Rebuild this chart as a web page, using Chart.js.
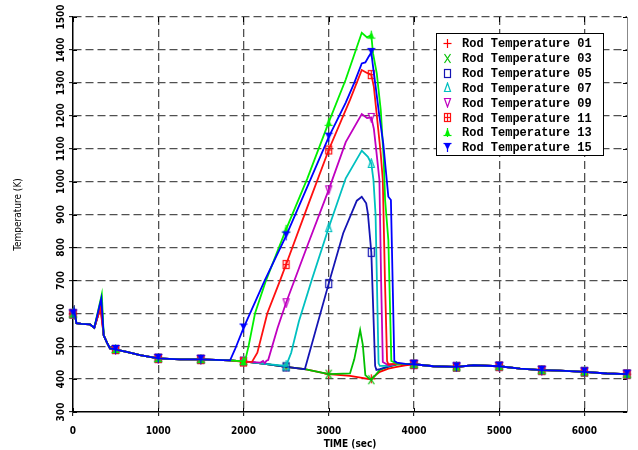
<!DOCTYPE html>
<html lang="en">
<head>
<meta charset="UTF-8">
<title>Rod Temperature</title>
<script src="https://cdn.jsdelivr.net/npm/chart.js"></script>
<style>
  body { margin: 0; background: #fff; }
  .plot { position: relative; width: 638px; height: 450px; }
</style>
</head>
<body>
<div class="plot"><canvas id="rodChart"></canvas></div>
<script>
// rod labels and line colours, 01 .. 15
const rodNames = ['Rod Temperature 01', 'Rod Temperature 03', 'Rod Temperature 05', 'Rod Temperature 07',
                  'Rod Temperature 09', 'Rod Temperature 11', 'Rod Temperature 13', 'Rod Temperature 15'];
const rodColors = ['#ff0000', '#00c000', '#1414b4', '#00c0c0', '#c000c0', '#ff1010', '#00f000', '#0000ff'];

const timeTicks = [0, 1000, 2000, 3000, 4000, 5000, 6000];

// start of transient, same for every rod (time s / temperature K)
const headT = [0, 12, 40, 100, 200, 250];
const headK = [598, 612, 570, 568, 566, 556];

// short spike near 330 s
const spikeT = [322, 335, 330, 330, 328, 325, 338, 332];
const spikeK = [615, 640, 628, 630, 625, 620, 658, 645];

const midT = [360, 400, 434, 500, 532, 630, 786, 1000, 1256, 1500];
const midK = [533, 510, 493, 490, 488, 483, 473, 463, 460, 460];

// heat-up and quench, per rod
const t01 = [1843, 2000, 2250, 2500, 2720, 3000, 3250, 3480, 3500, 3550, 3600, 3700, 3800, 3900];
const k01 = [457, 454, 446, 437, 430, 415, 410, 400, 401, 412, 422, 432, 437, 442];

const t03 = [1843, 2000, 2250, 2500, 2720, 3000, 3250, 3300, 3369, 3400, 3430, 3480, 3500, 3550, 3600, 3700, 3800, 3900];
const k03 = [457, 454, 446, 437, 430, 415, 417, 460, 549, 505, 412, 400, 398, 412, 428, 438, 444, 446];

const t05 = [1843, 2000, 2250, 2500, 2720, 3000, 3170, 3330, 3388, 3440, 3460, 3500, 3545, 3560, 3600, 3700, 3800, 3900];
const k05 = [457, 454, 446, 437, 430, 690, 843, 942, 954, 934, 903, 785, 440, 428, 430, 438, 446, 446];

const t07 = [1843, 2000, 2250, 2500, 2560, 2650, 2800, 3000, 3200, 3388, 3460, 3500, 3525, 3550, 3585, 3600, 3700, 3800, 3900];
const k07 = [457, 454, 446, 440, 480, 575, 700, 860, 1010, 1094, 1075, 1055, 1005, 900, 448, 440, 440, 446, 446];

const t09 = [1843, 2000, 2200, 2230, 2250, 2270, 2290, 2400, 2500, 2750, 3000, 3200, 3388, 3450, 3500, 3530, 3560, 3595, 3615, 3635, 3700, 3800, 3900];
const k09 = [457, 454, 450, 455, 448, 456, 458, 555, 632, 805, 975, 1120, 1205, 1193, 1195, 1160, 1090, 1005, 700, 452, 442, 446, 446];

const t11 = [1843, 2000, 2100, 2163, 2280, 2430, 2500, 2750, 3000, 3250, 3388, 3450, 3500, 3530, 3570, 3610, 3635, 3660, 3685, 3700, 3800, 3900];
const k11 = [457, 452, 452, 480, 600, 700, 748, 923, 1096, 1248, 1339, 1330, 1325, 1288, 1187, 1086, 1005, 700, 455, 445, 446, 446];

const t13 = [1843, 2000, 2020, 2060, 2136, 2265, 2500, 2750, 3000, 3200, 3388, 3450, 3500, 3520, 3564, 3611, 3645, 3662, 3700, 3735, 3800, 3900];
const k13 = [457, 454, 456, 500, 600, 700, 855, 1010, 1180, 1310, 1452, 1438, 1445, 1390, 1329, 1217, 1070, 944, 822, 455, 447, 446];

const t15 = [1843, 1900, 2000, 2250, 2500, 2750, 3000, 3200, 3300, 3388, 3430, 3470, 3500, 3520, 3550, 3590, 3640, 3700, 3730, 3770, 3800, 3900];
const k15 = [457, 490, 555, 700, 835, 985, 1135, 1240, 1300, 1359, 1362, 1380, 1392, 1350, 1290, 1208, 1116, 954, 944, 455, 450, 446];

// long cool-down, same for every rod
const tailT = [4000, 4229, 4500, 4699, 5000, 5246, 5500, 5716, 6000, 6264, 6500];
const tailK = [445, 439, 437, 442, 439, 432, 427, 426, 422, 417, 415];

const rodT = [t01, t03, t05, t07, t09, t11, t13, t15];
const rodK = [k01, k03, k05, k07, k09, k11, k13, k15];

const NARROW = "'Liberation Sans Narrow', 'Arial Narrow', 'DejaVu Sans Condensed', sans-serif";

// small marker glyphs drawn on 11x11 canvases
function glyph(color, draw) {
    const c = document.createElement('canvas');
    c.width = 11; c.height = 11;
    const g = c.getContext('2d');
    g.strokeStyle = color; g.fillStyle = color; g.lineWidth = 1.2;
    draw(g);
    return c;
}
function seg(g, x1, y1, x2, y2) { g.beginPath(); g.moveTo(x1, y1); g.lineTo(x2, y2); g.stroke(); }
function tri(g, pts, fill) {
    g.beginPath(); g.moveTo(pts[0], pts[1]); g.lineTo(pts[2], pts[3]); g.lineTo(pts[4], pts[5]); g.closePath();
    fill ? g.fill() : g.stroke();
}

const markers = [
    glyph(rodColors[0], g => { seg(g, 5.5, 1, 5.5, 10); seg(g, 1.5, 5.5, 9.5, 5.5); }),
    glyph(rodColors[1], g => { seg(g, 2.5, 1, 8.5, 10); seg(g, 8.5, 1, 2.5, 10); }),
    glyph(rodColors[2], g => { g.strokeRect(2.5, 1.5, 6, 8); }),
    glyph(rodColors[3], g => { tri(g, [5.5, 1, 8.5, 9.5, 2.5, 9.5], false); }),
    glyph(rodColors[4], g => { tri(g, [2.5, 1.5, 8.5, 1.5, 5.5, 10], false); }),
    glyph(rodColors[5], g => { g.strokeRect(2.5, 1.5, 6, 8); seg(g, 5.5, 1.5, 5.5, 9.5); seg(g, 2.5, 5.5, 8.5, 5.5); }),
    glyph(rodColors[6], g => { tri(g, [5.5, 1, 8, 8, 3, 8], true); seg(g, 1.5, 8.5, 9.5, 8.5); seg(g, 5.5, 1, 5.5, 10); }),
    glyph(rodColors[7], g => { seg(g, 1.5, 1.5, 9.5, 1.5); tri(g, [2.5, 2, 8.5, 2, 5.5, 8], true); seg(g, 5.5, 1, 5.5, 10); })
];

const datasets = rodNames.map((name, i) => {
    const t = [...headT, spikeT[i], ...midT, ...rodT[i], ...tailT];
    const k = [...headK, spikeK[i], ...midK, ...rodK[i], ...tailK];
    return {
        label: name,
        data: t.map((x, j) => ({ x: x, y: k[j] })),
        borderColor: rodColors[i],
        borderWidth: 1.8,
        tension: 0,
        pointStyle: markers[i],
        pointRadius: c => (c.raw && c.raw.x % 500 === 0) ? 4 : 0,
        order: rodNames.length - 1 - i,
        clip: false
    };
});

// inner tick marks on all four sides and the right frame line
const frame = {
    id: 'frame',
    beforeDatasetsDraw(chart) {
        const { ctx, chartArea: a, scales: { x, y } } = chart;
        ctx.save();
        ctx.strokeStyle = '#888';
        ctx.lineWidth = 1;
        ctx.beginPath(); ctx.moveTo(a.right + 0.5, a.top); ctx.lineTo(a.right + 0.5, a.bottom); ctx.stroke();
        ctx.strokeStyle = '#000';
        x.ticks.forEach(tk => {
            const px = Math.round(x.getPixelForValue(tk.value)) + 0.5;
            ctx.beginPath(); ctx.moveTo(px, a.bottom); ctx.lineTo(px, a.bottom - 4); ctx.stroke();
            ctx.beginPath(); ctx.moveTo(px, a.top); ctx.lineTo(px, a.top + 5); ctx.stroke();
        });
        y.ticks.forEach(tk => {
            const py = Math.round(y.getPixelForValue(tk.value)) + 0.5;
            ctx.beginPath(); ctx.moveTo(a.left, py); ctx.lineTo(a.left + 4, py); ctx.stroke();
            ctx.beginPath(); ctx.moveTo(a.right, py); ctx.lineTo(a.right - 4, py); ctx.stroke();
        });
        ctx.restore();
    }
};

// boxed legend inside the plot, upper right
const rodLegend = {
    id: 'rodLegend',
    afterDraw(chart) {
        const ctx = chart.ctx;
        ctx.save();
        ctx.fillStyle = '#fff';
        ctx.fillRect(436.5, 33.5, 167, 122);
        ctx.strokeStyle = '#000';
        ctx.lineWidth = 1;
        ctx.strokeRect(436.5, 33.5, 167, 122);
        ctx.font = "bold 12px 'Liberation Mono', 'Courier New', monospace";
        ctx.fillStyle = '#000';
        ctx.textBaseline = 'middle';
        rodNames.forEach((name, i) => {
            const ry = 43.3 + i * 14.85;
            ctx.drawImage(markers[i], 442, Math.round(ry - 5.5));
            ctx.fillText(name, 462, ry + 1);
        });
        ctx.restore();
    }
};

const plainNumber = v => String(v);

new Chart(document.getElementById('rodChart'), {
    type: 'line',
    data: { datasets: datasets },
    plugins: [frame, rodLegend],
    options: {
        responsive: true,
        maintainAspectRatio: false,
        animation: false,
        layout: { padding: { top: 17, right: 11, left: 0, bottom: 0 } },
        plugins: { legend: { display: false }, tooltip: { enabled: false } },
        scales: {
            x: {
                type: 'linear', min: 0, max: 6500,
                afterBuildTicks: s => { s.ticks = timeTicks.map(v => ({ value: v })); },
                afterFit: s => { s.height = 38; },
                border: { color: '#000', width: 1.5, dash: [8, 4] },
                grid: {
                    color: c => (c.tick && c.tick.value === 0) ? 'rgba(0,0,0,0)' : '#505050',
                    lineWidth: 1.3, tickLength: 4, tickColor: '#000', tickWidth: 1
                },
                ticks: { callback: plainNumber, color: '#000', font: { family: NARROW, size: 10, weight: 'bold' }, padding: 9, maxRotation: 0 },
                title: { display: true, text: 'TIME (sec)', color: '#000', font: { family: NARROW, size: 10, weight: 'bold' }, padding: 0 }
            },
            y: {
                min: 300, max: 1500,
                afterFit: s => { s.width = 73; },
                border: { color: '#000', width: 1.5, dash: [8, 4] },
                grid: {
                    color: c => (c.tick && c.tick.value === 300) ? 'rgba(0,0,0,0)' : '#505050',
                    lineWidth: 1.3, tickLength: 4, tickColor: '#000', tickWidth: 1
                },
                ticks: {
                    callback: plainNumber, stepSize: 100, color: '#000', minRotation: 90, maxRotation: 90,
                    crossAlign: 'center', padding: -5,
                    font: { family: NARROW, size: 10, weight: 'bold' }
                },
                title: { display: true, text: 'Temperature (K)', color: '#000', font: { family: NARROW, size: 10 }, padding: { top: 12 } }
            }
        }
    }
});
</script>
</body>
</html>
